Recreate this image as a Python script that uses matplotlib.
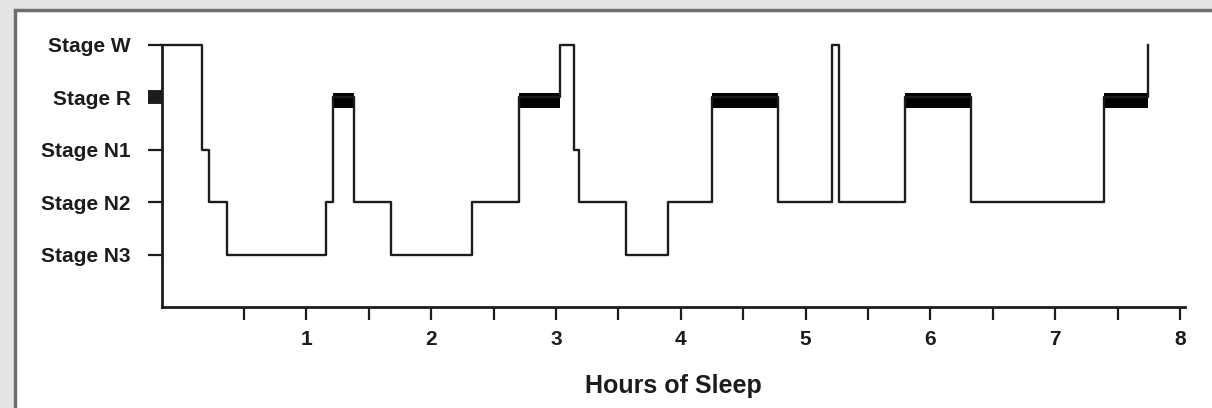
import matplotlib.pyplot as plt
from matplotlib.patches import Rectangle

# hypnogram: time (hours) at which each stage starts, and the stage
change_hours = [-0.156, 0.162, 0.22, 0.363, 1.157, 1.21, 1.379, 1.679,
                2.329, 2.703, 3.032, 3.145, 3.185, 3.559, 3.894, 4.247,
                4.782, 5.21, 5.271, 5.793, 6.328, 7.393, 7.746]
stages = ['W', 'N1', 'N2', 'N3', 'N2', 'R', 'N2', 'N3',
          'N2', 'R', 'W', 'N1', 'N2', 'N3', 'N2', 'R',
          'N2', 'W', 'N2', 'R', 'N2', 'R', 'W']

stage_order = ['N3', 'N2', 'N1', 'R', 'W']
stage_labels = ['Stage N3', 'Stage N2', 'Stage N1', 'Stage R', 'Stage W']
hour_ticks = [0.5, 1, 1.5, 2, 2.5, 3, 3.5, 4, 4.5, 5, 5.5, 6, 6.5, 7, 7.5, 8]

plt.rcParams['font.family'] = ['Liberation Sans', 'DejaVu Sans']
plt.rcParams['font.weight'] = 'bold'

INK = '#1c1c1c'
level = {s: i + 1 for i, s in enumerate(stage_order)}
y = [level[s] for s in stages]

fig = plt.figure(figsize=(12.12, 4.08), dpi=100, facecolor='#e6e6e6')
fig.patches.append(Rectangle((15 / 1212, -0.05), 1.1, 1.05 - 10 / 408,
                             transform=fig.transFigure, facecolor='white',
                             edgecolor='#6e6e6e', linewidth=2.5, zorder=-1))

ax = fig.add_axes([162 / 1212, 101 / 408, 1023 / 1212, 262 / 408])
ax.set_facecolor('none')

ax.step(change_hours, y, where='post', color=INK, lw=1.7, clip_on=False)

# REM periods drawn as thick black bars
for i, s in enumerate(stages[:-1]):
    if s == 'R':
        ax.fill_between([change_hours[i], change_hours[i + 1]],
                        level['R'] - 0.2, level['R'] + 0.08,
                        color='black', lw=0)

ax.set_xlim(-0.156, 8.04)
ax.set_ylim(0, 5)

for side in ['top', 'right']:
    ax.spines[side].set_visible(False)
for side in ['left', 'bottom']:
    ax.spines[side].set_linewidth(2)
    ax.spines[side].set_color(INK)

ax.set_xticks(hour_ticks)
ax.set_xticklabels([str(int(h)) if h == int(h) else '' for h in hour_ticks])
ax.set_yticks([level[s] for s in stage_order])
ax.set_yticklabels(stage_labels)

ax.tick_params(axis='x', length=9.5, width=1.6, color=INK, pad=7,
               labelsize=15, labelcolor=INK)
ax.tick_params(axis='y', length=10, width=1.6, color=INK, pad=12.5,
               labelsize=15, labelcolor=INK)

# the REM tick is a black block, like the bars
rem_tick = ax.yaxis.get_major_ticks()[stage_order.index('R')]
rem_tick.tick1line.set_markeredgewidth(10)
rem_tick.tick1line.set_color('black')

ax.set_xlabel('Hours of Sleep', fontsize=18, fontweight='bold',
              color=INK, labelpad=18)

fig.savefig('out.png', dpi=100, facecolor=fig.get_facecolor())
